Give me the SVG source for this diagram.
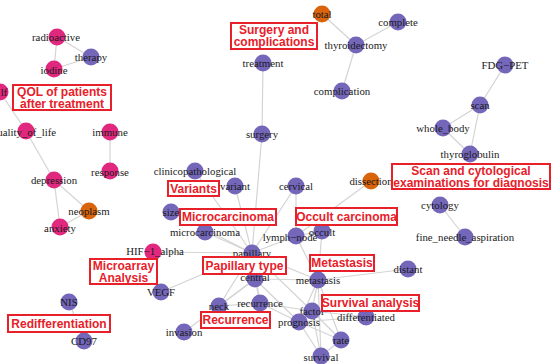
<svg xmlns="http://www.w3.org/2000/svg" width="551" height="364" viewBox="0 0 551 364">
<style>
.e{stroke:#d4d4d4;stroke-width:1.2;fill:none}
.p{fill:#7467ba}
.m{fill:#e0287f}
.o{fill:#d9640c}
.t{font-family:"Liberation Serif","Times New Roman",serif;font-size:10.8px;fill:#1a1a1a;text-anchor:middle;dominant-baseline:central}
.b{fill:#fff;stroke:#e8202a;stroke-width:2}
.l{font-family:"Liberation Sans",Arial,sans-serif;font-weight:bold;font-size:12px;fill:#e8202a;text-anchor:middle;dominant-baseline:central}
</style>
<rect width="551" height="364" fill="#fff"/>
<g id="edges">
<line class="e" x1="57" y1="37" x2="91" y2="57"/>
<line class="e" x1="57" y1="37" x2="54" y2="69"/>
<line class="e" x1="54" y1="69" x2="91" y2="57"/>
<line class="e" x1="0" y1="92" x2="26" y2="131"/>
<line class="e" x1="26" y1="131" x2="54" y2="180"/>
<line class="e" x1="110" y1="132" x2="110" y2="171"/>
<line class="e" x1="54" y1="180" x2="89" y2="211"/>
<line class="e" x1="54" y1="180" x2="60" y2="227"/>
<line class="e" x1="60" y1="227" x2="89" y2="211"/>
<line class="e" x1="322" y1="14" x2="356" y2="45"/>
<line class="e" x1="356" y1="45" x2="398" y2="22"/>
<line class="e" x1="356" y1="45" x2="342" y2="91"/>
<line class="e" x1="263" y1="63" x2="262" y2="134"/>
<line class="e" x1="262" y1="134" x2="252" y2="253"/>
<line class="e" x1="505" y1="65" x2="480" y2="105"/>
<line class="e" x1="480" y1="105" x2="443" y2="128"/>
<line class="e" x1="480" y1="105" x2="470" y2="154"/>
<line class="e" x1="443" y1="128" x2="470" y2="154"/>
<line class="e" x1="440" y1="205" x2="465" y2="237"/>
<line class="e" x1="69" y1="302" x2="84" y2="341"/>
<line class="e" x1="371" y1="181" x2="296" y2="236"/>
<line class="e" x1="252" y1="253" x2="195" y2="171"/>
<line class="e" x1="252" y1="253" x2="235" y2="186"/>
<line class="e" x1="252" y1="253" x2="296" y2="186"/>
<line class="e" x1="252" y1="253" x2="171" y2="212"/>
<line class="e" x1="252" y1="253" x2="205" y2="232"/>
<line class="e" x1="252" y1="253" x2="153" y2="252"/>
<line class="e" x1="252" y1="253" x2="296" y2="236"/>
<line class="e" x1="252" y1="253" x2="255" y2="279"/>
<line class="e" x1="252" y1="253" x2="219" y2="306"/>
<line class="e" x1="252" y1="253" x2="260" y2="303"/>
<line class="e" x1="252" y1="253" x2="318" y2="280"/>
<line class="e" x1="252" y1="253" x2="161" y2="292"/>
<line class="e" x1="252" y1="253" x2="312" y2="311"/>
<line class="e" x1="296" y1="186" x2="296" y2="236"/>
<line class="e" x1="296" y1="236" x2="322" y2="231"/>
<line class="e" x1="296" y1="236" x2="318" y2="280"/>
<line class="e" x1="322" y1="231" x2="318" y2="280"/>
<line class="e" x1="318" y1="280" x2="408" y2="269"/>
<line class="e" x1="318" y1="280" x2="312" y2="311"/>
<line class="e" x1="318" y1="280" x2="299" y2="322"/>
<line class="e" x1="318" y1="280" x2="321" y2="356"/>
<line class="e" x1="318" y1="280" x2="341" y2="340"/>
<line class="e" x1="318" y1="280" x2="255" y2="279"/>
<line class="e" x1="255" y1="279" x2="219" y2="306"/>
<line class="e" x1="255" y1="279" x2="260" y2="303"/>
<line class="e" x1="255" y1="279" x2="299" y2="322"/>
<line class="e" x1="255" y1="279" x2="184" y2="332"/>
<line class="e" x1="219" y1="306" x2="260" y2="303"/>
<line class="e" x1="260" y1="303" x2="312" y2="311"/>
<line class="e" x1="260" y1="303" x2="299" y2="322"/>
<line class="e" x1="312" y1="311" x2="299" y2="322"/>
<line class="e" x1="312" y1="311" x2="366" y2="317"/>
<line class="e" x1="312" y1="311" x2="321" y2="356"/>
<line class="e" x1="312" y1="311" x2="341" y2="340"/>
<line class="e" x1="299" y1="322" x2="321" y2="356"/>
<line class="e" x1="299" y1="322" x2="341" y2="340"/>
<line class="e" x1="299" y1="322" x2="366" y2="317"/>
<line class="e" x1="341" y1="340" x2="321" y2="356"/>
</g>
<g id="radioactive"><circle class="m" cx="57" cy="37" r="8.5"/><text class="t" x="56" y="37">radioactive</text></g>
<g id="therapy"><circle class="p" cx="91" cy="57" r="8.5"/><text class="t" x="91" y="57">therapy</text></g>
<g id="iodine"><circle class="m" cx="54" cy="69" r="8.5"/><text class="t" x="54" y="70">iodine</text></g>
<g id="lf"><circle class="m" cx="0" cy="92" r="8.5"/><text class="t" x="4" y="92">lf</text></g>
<g id="quality_of_life"><circle class="m" cx="26" cy="131" r="8.5"/><text class="t" x="24" y="132">quality_of_life</text></g>
<g id="immune"><circle class="m" cx="110" cy="132" r="8.5"/><text class="t" x="110" y="132">immune</text></g>
<g id="response"><circle class="m" cx="110" cy="171" r="8.5"/><text class="t" x="110" y="172">response</text></g>
<g id="depression"><circle class="m" cx="54" cy="180" r="8.5"/><text class="t" x="54" y="180">depression</text></g>
<g id="neoplasm"><circle class="o" cx="89" cy="211" r="8.5"/><text class="t" x="89" y="211">neoplasm</text></g>
<g id="anxiety"><circle class="m" cx="60" cy="227" r="8.5"/><text class="t" x="60" y="228">anxiety</text></g>
<g id="total"><circle class="o" cx="322" cy="14" r="8.5"/><text class="t" x="322" y="14">total</text></g>
<g id="complete"><circle class="p" cx="398" cy="22" r="8.5"/><text class="t" x="398" y="22">complete</text></g>
<g id="thyroidectomy"><circle class="p" cx="356" cy="45" r="8.5"/><text class="t" x="356" y="45">thyroidectomy</text></g>
<g id="treatment"><circle class="p" cx="263" cy="63" r="8.5"/><text class="t" x="263" y="63">treatment</text></g>
<g id="complication"><circle class="p" cx="342" cy="91" r="8.5"/><text class="t" x="342" y="91">complication</text></g>
<g id="surgery"><circle class="p" cx="262" cy="134" r="8.5"/><text class="t" x="262" y="134">surgery</text></g>
<g id="FDG-PET"><circle class="p" cx="505" cy="65" r="8.5"/><text class="t" x="505" y="65">FDG−PET</text></g>
<g id="scan"><circle class="p" cx="480" cy="105" r="8.5"/><text class="t" x="480" y="105">scan</text></g>
<g id="whole_body"><circle class="p" cx="443" cy="128" r="8.5"/><text class="t" x="443" y="128">whole_body</text></g>
<g id="thyroglobulin"><circle class="p" cx="470" cy="154" r="8.5"/><text class="t" x="470" y="154">thyroglobulin</text></g>
<g id="dissection"><circle class="o" cx="371" cy="181" r="8.5"/><text class="t" x="371" y="181">dissection</text></g>
<g id="cytology"><circle class="p" cx="440" cy="205" r="8.5"/><text class="t" x="440" y="205">cytology</text></g>
<g id="fine_needle_aspiration"><circle class="p" cx="465" cy="237" r="8.5"/><text class="t" x="465" y="237">fine_needle_aspiration</text></g>
<g id="clinicopathological"><circle class="p" cx="195" cy="171" r="8.5"/><text class="t" x="195" y="171">clinicopathological</text></g>
<g id="variant"><circle class="p" cx="235" cy="186" r="8.5"/><text class="t" x="235" y="186">variant</text></g>
<g id="cervical"><circle class="p" cx="296" cy="186" r="8.5"/><text class="t" x="296" y="186">cervical</text></g>
<g id="size"><circle class="p" cx="171" cy="212" r="8.5"/><text class="t" x="171" y="212">size</text></g>
<g id="microcarcinoma"><circle class="p" cx="205" cy="232" r="8.5"/><text class="t" x="205" y="232">microcarcinoma</text></g>
<g id="lymph_node"><circle class="p" cx="296" cy="236" r="8.5"/><text class="t" x="290" y="237">lymph−node</text></g>
<g id="occult"><circle class="p" cx="322" cy="231" r="8.5"/><text class="t" x="322" y="232">occult</text></g>
<g id="papillary"><circle class="p" cx="252" cy="253" r="8.5"/><text class="t" x="252" y="253">papillary</text></g>
<g id="HIF-1_alpha"><circle class="m" cx="153" cy="252" r="8.5"/><text class="t" x="155" y="251">HIF−1_alpha</text></g>
<g id="VEGF"><circle class="p" cx="161" cy="292" r="8.5"/><text class="t" x="161" y="292">VEGF</text></g>
<g id="central"><circle class="p" cx="255" cy="279" r="8.5"/><text class="t" x="255" y="277">central</text></g>
<g id="neck"><circle class="p" cx="219" cy="306" r="8.5"/><text class="t" x="219" y="306">neck</text></g>
<g id="recurrence"><circle class="p" cx="260" cy="303" r="8.5"/><text class="t" x="260" y="303">recurrence</text></g>
<g id="metastasis"><circle class="p" cx="318" cy="280" r="8.5"/><text class="t" x="318" y="280">metastasis</text></g>
<g id="distant"><circle class="p" cx="408" cy="269" r="8.5"/><text class="t" x="408" y="269">distant</text></g>
<g id="factor"><circle class="p" cx="312" cy="311" r="8.5"/><text class="t" x="312" y="311">factor</text></g>
<g id="prognosis"><circle class="p" cx="299" cy="322" r="8.5"/><text class="t" x="299" y="322">prognosis</text></g>
<g id="differentiated"><circle class="p" cx="366" cy="317" r="8.5"/><text class="t" x="366" y="317">differentiated</text></g>
<g id="rate"><circle class="p" cx="341" cy="340" r="8.5"/><text class="t" x="341" y="340">rate</text></g>
<g id="survival"><circle class="p" cx="321" cy="356" r="8.5"/><text class="t" x="321" y="357">survival</text></g>
<g id="NIS"><circle class="p" cx="69" cy="302" r="8.5"/><text class="t" x="69" y="302">NIS</text></g>
<g id="CD97"><circle class="p" cx="84" cy="341" r="8.5"/><text class="t" x="84" y="341">CD97</text></g>
<g id="invasion"><circle class="p" cx="184" cy="332" r="8.5"/><text class="t" x="184" y="332">invasion</text></g>
<g id="label-qol"><rect class="b" x="13" y="85" width="98" height="25"/><text class="l" x="62" y="91.5">QOL of patients</text><text class="l" x="62" y="103.5">after treatment</text></g>
<g id="label-surgery"><rect class="b" x="231" y="23" width="86" height="26"/><text class="l" x="274" y="30">Surgery and</text><text class="l" x="274" y="42">complications</text></g>
<g id="label-scan"><rect class="b" x="392" y="164" width="158" height="25"/><text class="l" x="471" y="170.5">Scan and cytological</text><text class="l" x="471" y="182.5">examinations for diagnosis</text></g>
<g id="label-variants"><rect class="b" x="168" y="181" width="51" height="15"/><text class="l" x="193.5" y="189">Variants</text></g>
<g id="label-microcarcinoma"><rect class="b" x="180" y="209" width="96" height="16"/><text class="l" x="228" y="217">Microcarcinoma</text></g>
<g id="label-occult"><rect class="b" x="296" y="208" width="101" height="17"/><text class="l" x="346.5" y="216.5">Occult carcinoma</text></g>
<g id="label-metastasis"><rect class="b" x="310" y="255" width="64" height="16"/><text class="l" x="342" y="263">Metastasis</text></g>
<g id="label-papillary"><rect class="b" x="203" y="257" width="83" height="17"/><text class="l" x="244.5" y="265.5">Papillary type</text></g>
<g id="label-microarray"><rect class="b" x="90" y="259" width="67" height="25"/><text class="l" x="123.5" y="265.5">Microarray</text><text class="l" x="123.5" y="277.5">Analysis</text></g>
<g id="label-recurrence"><rect class="b" x="201" y="312" width="69" height="16"/><text class="l" x="235.5" y="320">Recurrence</text></g>
<g id="label-survival"><rect class="b" x="322" y="295" width="97" height="16"/><text class="l" x="370.5" y="303">Survival analysis</text></g>
<g id="label-redifferentiation"><rect class="b" x="8" y="315" width="102" height="17"/><text class="l" x="59" y="323.5">Redifferentiation</text></g>
</svg>
